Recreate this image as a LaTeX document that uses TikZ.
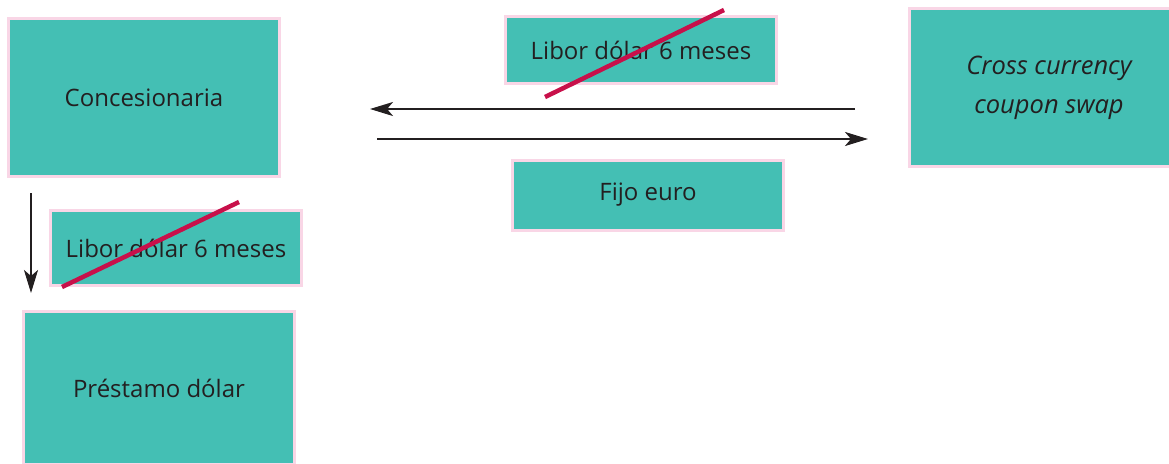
\documentclass[tikz,border=0pt]{standalone}
\usepackage{fontspec}
\setmainfont{Open Sans}
\usetikzlibrary{arrows.meta}
\definecolor{boxteal}{HTML}{44BFB4}
\definecolor{boxedge}{HTML}{F9D6E6}
\definecolor{inktext}{HTML}{231F20}
\definecolor{strike}{HTML}{C8104A}
\begin{document}
\begin{tikzpicture}[x=1pt,y=-1pt,
  card/.style={rectangle, fill=boxteal, draw=boxedge, line width=3pt,
    inner sep=0pt, text=inktext, align=center,
    font=\fontsize{24}{39}\selectfont},
  flow/.style={draw=inktext, line width=2.2pt,
    -{Stealth[length=23pt,width=14pt,inset=6pt]}},
  cross/.style={draw=strike, line width=4.5pt}]
\useasboundingbox (0,0) rectangle (1169,463);
% boxes
\node[card, minimum width=271pt, minimum height=158pt] (conc) at (144,97.5) {Concesionaria};
\node[card, minimum width=251pt, minimum height=75pt] (libL) at (176,248) {Libor dólar 6 meses};
\node[card, minimum width=271pt, minimum height=153pt] (prest) at (159,388) {Préstamo dólar};
\node[card, minimum width=271pt, minimum height=67pt] (libT) at (641,50) {Libor dólar 6 meses};
\node[card, minimum width=271pt, minimum height=70pt] (fijo) at (648,195) {Fijo euro};
\node[card, minimum width=279pt, minimum height=158pt,
      font=\fontsize{25.5}{39}\selectfont\itshape] (ccs) at (1049,87.5) {Cross currency\\coupon swap};
% arrow ends
\coordinate (payS) at (855,109);
\coordinate (payE) at (370,109);
\coordinate (recS) at (377,139);
\coordinate (recE) at (868,139);
\coordinate (loanS) at (31,193);
\coordinate (loanE) at (31,293);
\draw[flow] (payS) -- (payE);
\draw[flow] (recS) -- (recE);
\draw[flow] (loanS) -- (loanE);
% struck-out Libor legs
\coordinate (sL1) at (62,287);
\coordinate (sL2) at (239,202);
\coordinate (sT1) at (545,97);
\coordinate (sT2) at (724,10);
\draw[cross] (sL1) -- (sL2);
\draw[cross] (sT1) -- (sT2);
\end{tikzpicture}
\end{document}
